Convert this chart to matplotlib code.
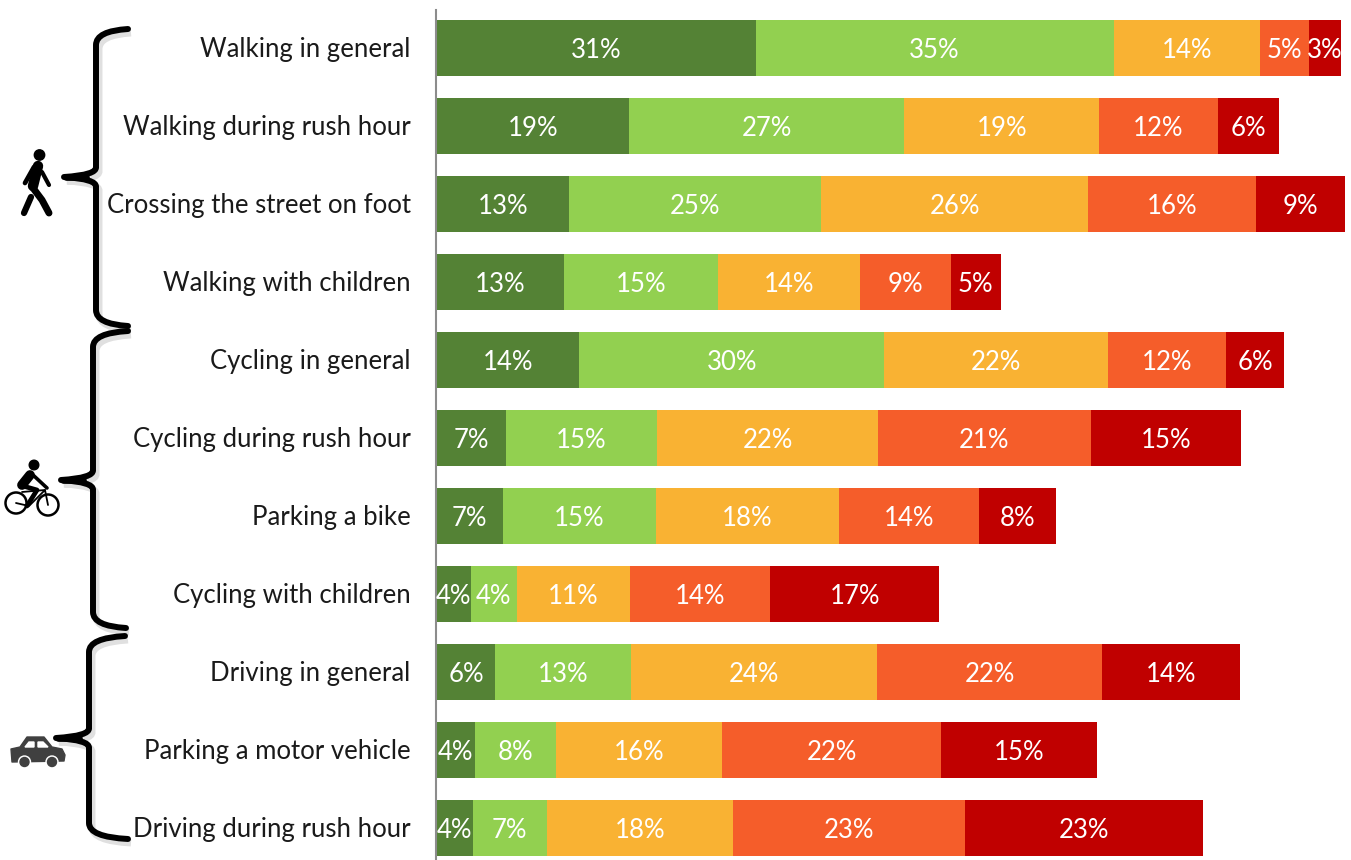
import matplotlib
matplotlib.use("Agg")
import matplotlib.pyplot as plt
import numpy as np
from matplotlib.path import Path
from matplotlib.patches import PathPatch, Circle, Polygon
from matplotlib.transforms import ScaledTranslation

plt.rcParams['font.family'] = ['Lato', 'DejaVu Sans']

activities = ["Walking in general", "Walking during rush hour", "Crossing the street on foot",
              "Walking with children", "Cycling in general", "Cycling during rush hour",
              "Parking a bike", "Cycling with children", "Driving in general",
              "Parking a motor vehicle", "Driving during rush hour"]

# share of respondents per rating, best to worst
very_good = [31.1, 18.7, 12.9, 12.4, 13.9, 6.7, 6.4, 3.3, 5.7, 3.7, 3.5]
good = [34.9, 26.9, 24.6, 15.0, 29.7, 14.8, 15.0, 4.5, 13.2, 7.9, 7.2]
neutral = [14.3, 19.0, 26.0, 13.9, 21.9, 21.5, 17.8, 11.0, 24.0, 16.2, 18.2]
bad = [4.8, 11.6, 16.4, 8.8, 11.5, 20.8, 13.7, 13.7, 22.0, 21.4, 22.6]
very_bad = [3.1, 5.9, 8.7, 4.9, 5.6, 14.6, 7.5, 16.5, 13.4, 15.2, 23.2]

# the labels printed on the bars are rounded differently from the bar lengths
label_very_good = [31, 19, 13, 13, 14, 7, 7, 4, 6, 4, 4]
label_good = [35, 27, 25, 15, 30, 15, 15, 4, 13, 8, 7]
label_neutral = [14, 19, 26, 14, 22, 22, 18, 11, 24, 16, 18]
label_bad = [5, 12, 16, 9, 12, 21, 14, 14, 22, 22, 23]
label_very_bad = [3, 6, 9, 5, 6, 15, 8, 17, 14, 15, 23]

series = [very_good, good, neutral, bad, very_bad]
series_labels = [label_very_good, label_good, label_neutral, label_bad, label_very_bad]
colors = ["#548235", "#92D050", "#F9B233", "#F55D2A", "#C00000"]

W, H = 1351, 860
fig = plt.figure(figsize=(W / 100, H / 100), dpi=100)
ax = fig.add_axes([437 / W, 0, (W - 437) / W, 1])

# set_position resets the axis, so it has to come before the ticks
ax.spines["left"].set_position(("outward", 0.5))

y = np.arange(len(activities))
left = np.zeros(len(activities))
for vals, labs, col in zip(series, series_labels, colors):
    vals = np.array(vals)
    ax.barh(y, vals, left=left, height=56 / 78, color=col, linewidth=0)
    for yi, xi, v, lab in zip(y, left, vals, labs):
        ax.text(xi + v / 2, yi + 0.03, f"{lab}%", color="white", ha="center", va="center", fontsize=18.5)
    left += vals

ax.set_xlim(0, (W - 437) / 10.25)
ax.set_ylim((H - 48) / 78, -48 / 78)
ax.set_xticks([])
ax.set_yticks(y)
ax.set_yticklabels(activities, fontsize=18.5, color="#1a1a1a")
ax.tick_params(axis="y", length=0, pad=18.5)
nudge = ScaledTranslation(0, 1 / 100, fig.dpi_scale_trans)
for lab in ax.get_yticklabels():
    lab.set_transform(lab.get_transform() + nudge)
for s in ["top", "right", "bottom"]:
    ax.spines[s].set_visible(False)
ax.spines["left"].set_color("#8c8c8c")
ax.spines["left"].set_linewidth(1.5)
ax.spines["left"].set_bounds(-38 / 78, (H - 48) / 78)

# overlay in pixel coordinates for the braces and icons
ov = fig.add_axes([0, 0, 1, 1], facecolor="none")
ov.set_xlim(0, W)
ov.set_ylim(H, 0)
ov.axis("off")


def brace(x, top, tip, bottom, tip_x, end_top, end_bottom):
    verts = [(end_top, top), (x, top + 2), (x, top + 16), (x, tip - 10), (x + 1, tip - 2), (tip_x, tip),
             (x + 1, tip + 2), (x, tip + 10), (x, bottom - 16), (x, bottom - 2), (end_bottom, bottom)]
    codes = [Path.MOVETO, Path.CURVE3, Path.CURVE3, Path.LINETO, Path.CURVE3, Path.CURVE3,
             Path.CURVE3, Path.CURVE3, Path.LINETO, Path.CURVE3, Path.CURVE3]
    shadow = [(a + 3, b + 4) for a, b in verts]
    ov.add_patch(PathPatch(Path(shadow, codes), fill=False, lw=5, ec="black", alpha=0.12, capstyle="butt"))
    ov.add_patch(PathPatch(Path(verts, codes), fill=False, lw=4.3, ec="black", capstyle="round", joinstyle="round"))
    # the tip stays thick for most of its length
    ov.plot([tip_x + 2, x - 10], [tip, tip], color="black", lw=4.8, solid_capstyle="round")


brace(96, 29, 177, 326, 64, 128, 128)
brace(93, 331, 480, 628, 61, 128, 126)
brace(89, 636, 738, 839, 56, 125, 128)


def limb(xs, ys, lw, col="black"):
    ov.plot(xs, ys, color=col, lw=lw, solid_capstyle="round", solid_joinstyle="round")


# walker
ov.add_patch(Circle((39.5, 155), 5.2, color="black"))
limb([38, 33], [166, 186], 7.5)
limb([33, 42, 49], [188, 200, 213], 5)
limb([31, 24], [197, 213], 4.5)
limb([34, 25], [167, 183], 3.4)
limb([42, 49], [172, 185], 3)

# cyclist
ov.add_patch(Circle((34, 465), 4.8, color="black"))
limb([30, 22], [475, 485], 7)
limb([33, 47], [475, 488], 2.6)
limb([23, 37, 27], [486, 490, 506], 3.4)
for cx, cy in [(16, 503), (48, 505)]:
    ov.add_patch(Circle((cx, cy), 10.5, fill=False, ec="black", lw=1.8))
limb([16, 29, 45, 48], [503, 506, 490, 505], 1.3)
limb([22, 45], [492, 490], 1.3)

# car
ov.add_patch(Polygon([(11, 749), (20, 747), (27, 737), (44, 737), (52, 747), (62, 749), (65, 755), (64, 761), (12, 762)],
                     closed=True, color="#404040", joinstyle="round"))
ov.add_patch(Polygon([(25, 747), (29, 742), (34, 742), (34, 747)], closed=True, color="white"))
ov.add_patch(Polygon([(38, 742), (43, 742), (48, 747), (38, 747)], closed=True, color="white"))
for cx in [24.5, 52]:
    ov.add_patch(Circle((cx, 762), 6, color="white"))
    ov.add_patch(Circle((cx, 762), 4.5, color="#404040"))

fig.savefig("out.png", dpi=100)
